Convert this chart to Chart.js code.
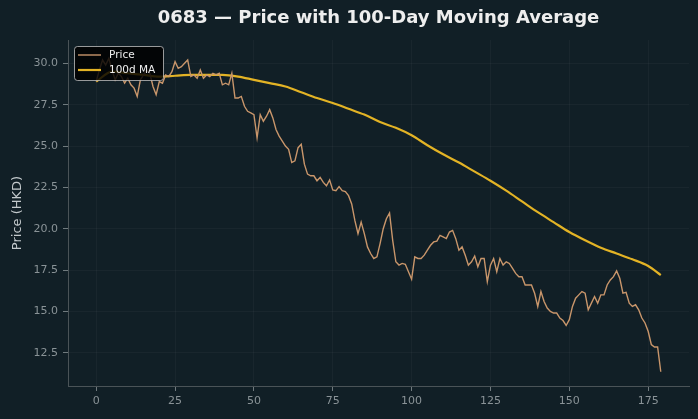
<!DOCTYPE html>
<html>
<head>
<meta charset="utf-8">
<script src="https://cdn.jsdelivr.net/npm/chart.js@4.4.1/dist/chart.umd.min.js"></script>
<style>
  html, body { margin:0; padding:0; background:#111f26; }
  #wrap { width:698px; height:419px; }
</style>
</head>
<body>
<div id="wrap"><canvas id="grafico" width="698" height="419"></canvas></div>
<script>
const titulo = "0683 — Price with 100-Day Moving Average";

// closing price, one value per trading day (index 0..179)
const precos = [
  28.9, 29.6, 30.2, 29.9, 30.3, 29.6, 29.0, 29.4, 29.2, 28.8,
  29.1, 28.7, 28.5, 28.0, 29.0, 29.3, 29.6, 29.4, 28.6, 28.1,
  28.9, 28.8, 29.3, 29.2, 29.5, 30.1, 29.7, 29.8, 30.0, 30.2,
  29.2, 29.3, 29.1, 29.6, 29.1, 29.3, 29.2, 29.4, 29.3, 29.4,
  28.7, 28.8, 28.7, 29.4, 27.9, 27.9, 28.0, 27.4, 27.1, 27.0,
  26.9, 25.5, 26.9, 26.5, 26.8, 27.2, 26.7, 26.0, 25.6, 25.3,
  25.0, 24.8, 24.0, 24.1, 24.9, 25.1, 23.9, 23.3, 23.2, 23.2,
  22.9, 23.1, 22.8, 22.6, 22.95, 22.35, 22.3, 22.55, 22.3, 22.25,
  22.0, 21.5, 20.5, 19.7, 20.4, 19.7, 18.9, 18.5, 18.2, 18.3,
  19.1, 20.0, 20.6, 20.95, 19.3, 18.0, 17.8, 17.9, 17.85, 17.4,
  16.95, 18.3, 18.2, 18.2, 18.4, 18.7, 19.0, 19.2, 19.25, 19.6,
  19.5, 19.4, 19.8, 19.9, 19.4, 18.7, 18.9, 18.4, 17.8, 18.0,
  18.35, 17.7, 18.2, 18.2, 16.8, 17.8, 18.2, 17.4, 18.2, 17.8,
  18.0, 17.9, 17.6, 17.3, 17.1, 17.1, 16.6, 16.6, 16.6, 16.1,
  15.3, 16.2, 15.6, 15.2, 15.0, 14.9, 14.9, 14.6, 14.45, 14.15,
  14.5, 15.3, 15.8, 16.0, 16.2, 16.1, 15.1, 15.5, 15.9, 15.5,
  16.0, 16.0, 16.6, 16.9, 17.1, 17.45, 17.0, 16.1, 16.15, 15.5,
  15.3, 15.4, 15.1, 14.6, 14.3, 13.8, 13.0, 12.85, 12.85, 11.35
];

// 100-day moving average at these day indexes
const diasMedia = [0, 5, 10, 15, 20, 25, 30, 35, 40, 45, 50, 55, 60, 65, 70, 75, 80, 85, 90,
  95, 100, 105, 110, 115, 120, 125, 130, 135, 140, 145, 150, 155, 160, 165, 170, 175, 179];
const media = [28.9, 29.5, 29.4, 29.3, 29.2, 29.25, 29.3, 29.3, 29.3, 29.2, 29.0, 28.8, 28.6,
  28.25, 27.9, 27.6, 27.25, 26.9, 26.45, 26.1, 25.65, 25.05, 24.5, 24.0, 23.45, 22.9, 22.3,
  21.65, 21.0, 20.4, 19.8, 19.3, 18.85, 18.5, 18.15, 17.75, 17.2];

const ticksX = [0, 25, 50, 75, 100, 125, 150, 175];
const ticksY = [12.5, 15.0, 17.5, 20.0, 22.5, 25.0, 27.5, 30.0];

const corPreco = "#c9966b";
const corMedia = "#e3b325";

// title centred over the plot area, like the original
const pluginTitulo = {
  id: "tituloCentro",
  afterDraw(chart){
    const c = chart.ctx;
    const a = chart.chartArea;
    c.save();
    c.fillStyle = "#eeeeee";
    c.font = "bold 18px 'DejaVu Sans'";
    c.textAlign = "center";
    c.textBaseline = "middle";
    c.fillText(titulo, (a.left + a.right) / 2, 18);
    c.restore();
  }
};

// legend box in the upper left corner of the plot
const pluginLegenda = {
  id: "legendaCanto",
  afterDraw(chart){
    const c = chart.ctx;
    const a = chart.chartArea;
    const x = a.left + 6, y = a.top + 6, w = 89, h = 34;
    c.save();
    c.fillStyle = "rgba(0,0,0,0.82)";
    c.strokeStyle = "rgba(200,200,200,0.75)";
    c.lineWidth = 1;
    c.beginPath();
    c.roundRect(x + 0.5, y + 0.5, w, h, 3);
    c.fill();
    c.stroke();
    c.font = "10.5px 'DejaVu Sans'";
    c.textBaseline = "middle";
    chart.data.datasets.forEach((ds, i) => {
      const ly = y + 9 + i * 15;
      c.strokeStyle = ds.borderColor;
      c.lineWidth = ds.borderWidth;
      c.beginPath();
      c.moveTo(x + 4, ly);
      c.lineTo(x + 27, ly);
      c.stroke();
      c.fillStyle = "#eeeeee";
      c.fillText(ds.label, x + 35, ly);
    });
    c.restore();
  }
};

const ctx = document.getElementById("grafico");

new Chart(ctx, {
  type: "line",
  data: {
    datasets: [
      {
        label: "Price",
        data: precos.map((v, i) => ({ x: i, y: v })),
        borderColor: corPreco,
        borderWidth: 1.4,
        pointRadius: 0,
        tension: 0
      },
      {
        label: "100d MA",
        data: diasMedia.map((d, i) => ({ x: d, y: media[i] })),
        borderColor: corMedia,
        borderWidth: 2.2,
        pointRadius: 0,
        cubicInterpolationMode: "monotone"
      }
    ]
  },
  options: {
    responsive: false,
    animation: false,
    layout: { padding: { top: 40, right: 9, left: 0, bottom: 0 } },
    plugins: {
      legend: { display: false },
      title: { display: false },
      tooltip: { enabled: false }
    },
    scales: {
      x: {
        type: "linear",
        min: -8.95,
        max: 187.95,
        afterBuildTicks: s => { s.ticks = ticksX.map(v => ({ value: v })); },
        afterFit: s => { s.height = 33; },
        border: { color: "#4a5357", width: 1 },
        grid: { color: "rgba(255,255,255,0.035)", tickColor: "#707a7e", tickLength: 5 },
        ticks: { color: "#8a9397", font: { family: "DejaVu Sans", size: 11 }, padding: 4, maxRotation: 0 }
      },
      y: {
        min: 10.49,
        max: 31.41,
        afterBuildTicks: s => { s.ticks = ticksY.map(v => ({ value: v })); },
        afterFit: s => { s.width = 68; },
        border: { color: "#4a5357", width: 1 },
        grid: { color: "rgba(255,255,255,0.035)", tickColor: "#707a7e", tickLength: 5 },
        ticks: {
          color: "#8a9397",
          font: { family: "DejaVu Sans", size: 11 },
          padding: 5,
          callback: v => v.toFixed(1)
        },
        title: {
          display: true,
          text: "Price (HKD)",
          color: "#c3c9cc",
          font: { family: "DejaVu Sans", size: 13 },
          padding: { top: 10, bottom: 2 }
        }
      }
    }
  },
  plugins: [pluginTitulo, pluginLegenda]
});
</script>
</body>
</html>
